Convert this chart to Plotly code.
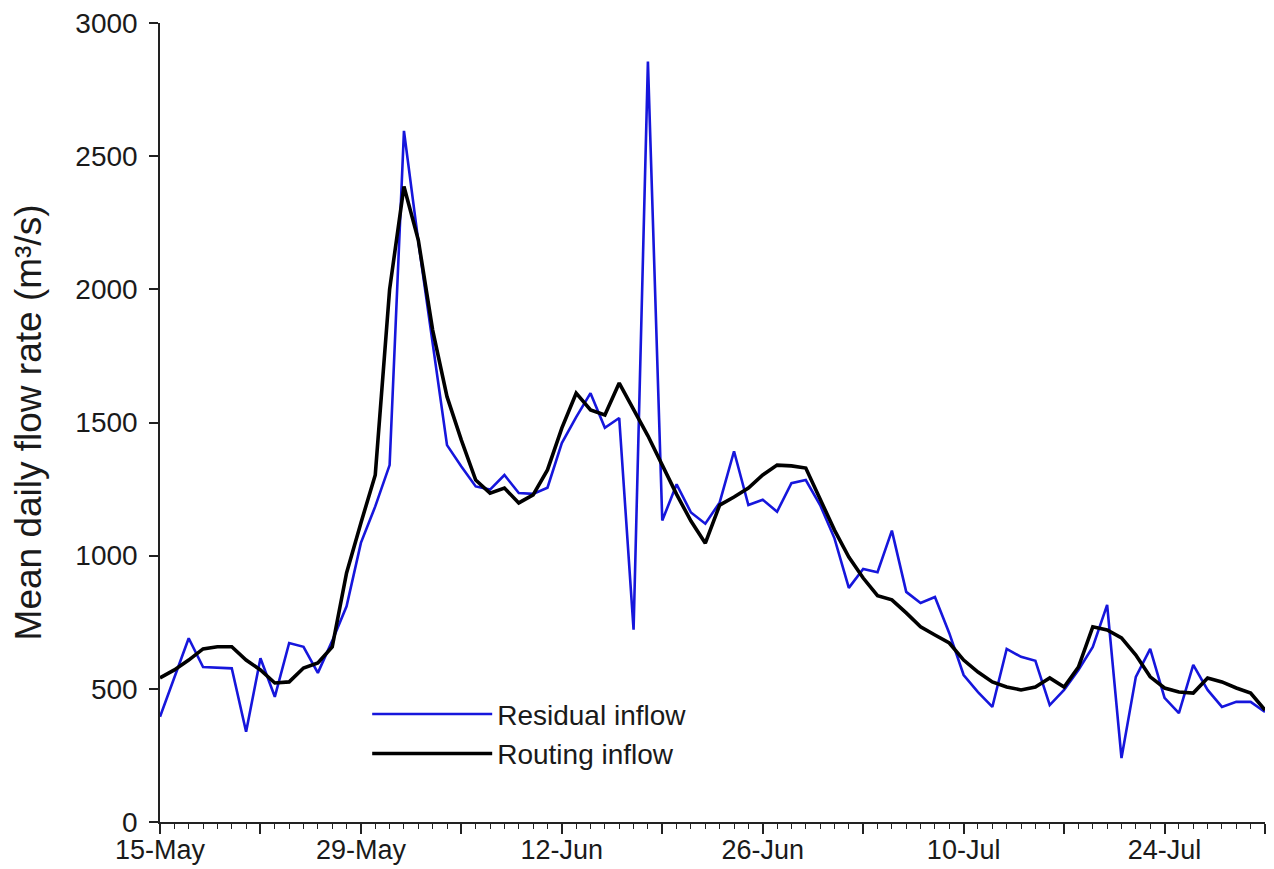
import pandas as pd
import plotly.graph_objects as go

# ---- data (daily values, 15-May to 31-Jul) ----
start_date = "2020-05-15"
n_days = 78

residual_inflow = [
    395, 545, 690, 582, 580, 577, 339, 615, 470, 672,
    658, 560, 680, 810, 1048, 1185, 1340, 2595, 2180, 1800,
    1415, 1335, 1260, 1248, 1303, 1235, 1232, 1255, 1423, 1520,
    1610, 1480, 1517, 722, 2855, 1132, 1268, 1162, 1120, 1200,
    1392, 1190, 1210, 1165, 1272, 1284, 1190, 1065, 879, 950,
    938, 1094, 864, 822, 845, 709, 552, 488, 432, 650,
    620, 605, 439, 496, 571, 657, 815, 240, 545, 650,
    466, 409, 590, 496, 432, 451, 451, 413,
]

routing_inflow = [
    541, 571, 608, 650, 658, 658, 608, 571, 522, 526,
    578, 597, 657, 935, 1123, 1303, 2000, 2386, 2185, 1847,
    1597, 1434, 1284, 1235, 1254, 1198, 1228, 1322, 1479, 1610,
    1547, 1528, 1648, 1550, 1450, 1340, 1230, 1130, 1047, 1190,
    1220, 1254, 1303, 1340, 1337, 1329, 1209, 1096, 995, 916,
    850, 834, 785, 733, 702, 672, 608, 563, 526, 507,
    496, 507, 541, 507, 582, 733, 721, 691, 627, 545,
    503, 488, 484, 541, 526, 503, 484, 420,
]

series_names = ["Residual inflow", "Routing inflow"]
tick_labels = ["15-May", "29-May", "12-Jun", "26-Jun", "10-Jul", "24-Jul"]
y_ticks = [0, 500, 1000, 1500, 2000, 2500, 3000]

dates = pd.date_range(start_date, periods=n_days, freq="D")

# major ticks every 7 days, labelled every 14 days
tick_dates = pd.date_range(start_date, periods=12, freq="7D")
tick_text = []
for i in range(len(tick_dates)):
    tick_text.append(tick_labels[i // 2] if i % 2 == 0 else "")

FONT = "Liberation Sans, Arial, sans-serif"
TXT = "#1a1a1a"

fig = go.Figure()
fig.add_trace(go.Scatter(
    x=dates, y=residual_inflow, mode="lines", name=series_names[0],
    line=dict(color="#1616dc", width=2.6),
))
fig.add_trace(go.Scatter(
    x=dates, y=routing_inflow, mode="lines", name=series_names[1],
    line=dict(color="#000000", width=3.6),
))

fig.update_layout(
    width=1274, height=869,
    margin=dict(l=160, r=9, t=23, b=47, autoexpand=False),
    paper_bgcolor="white", plot_bgcolor="white",
    font=dict(family=FONT, color=TXT),
    showlegend=True,
    legend=dict(
        x=0.1875, y=0.166, xanchor="left", yanchor="top",
        bgcolor="rgba(0,0,0,0)", font=dict(size=28, family=FONT, color=TXT),
        itemwidth=120, tracegroupgap=0,
    ),
)

fig.update_xaxes(
    type="date", automargin=False,
    range=[dates[0], dates[-1]],
    tickmode="array", tickvals=tick_dates, ticktext=tick_text,
    ticks="outside", ticklen=10, tickwidth=1.5, tickcolor="#222",
    minor=dict(dtick=86400000, ticks="outside", ticklen=5, tickwidth=1.2, tickcolor="#222", showgrid=False),
    showline=True, linecolor="#222", linewidth=1.5,
    showgrid=False, zeroline=False,
    tickfont=dict(size=27, family=FONT, color=TXT),
    ticklabelstandoff=-7,
)
fig.update_yaxes(
    automargin=False,
    range=[0, 3000],
    tickmode="array", tickvals=y_ticks,
    ticks="outside", ticklen=9, tickwidth=1.5, tickcolor="#222",
    showline=True, linecolor="#222", linewidth=1.5,
    showgrid=False, zeroline=False,
    tickfont=dict(size=28, family=FONT, color=TXT),
    ticklabelstandoff=6,
    title=dict(text="Mean daily flow rate (m³/s)", font=dict(size=37, family=FONT, color=TXT), standoff=22),
)

fig.write_html(
    "out.html",
    config={"displayModeBar": False},
    post_script="document.body.style.margin='0';document.documentElement.style.overflow='hidden';",
)
